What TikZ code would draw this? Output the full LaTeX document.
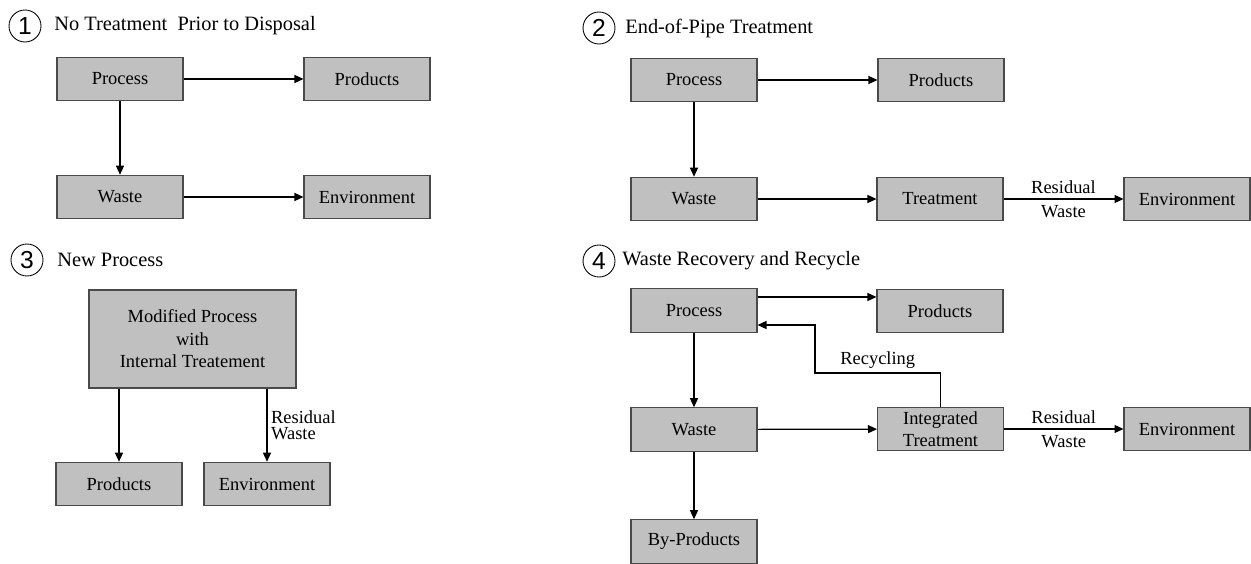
\documentclass[tikz,border=0pt]{standalone}
\usepackage{fontspec}
\setmainfont{Liberation Serif}
\newfontfamily\numsans{Liberation Sans}
\usepackage{tikz}
\usetikzlibrary{arrows.meta,positioning,calc}
\definecolor{wasteFill}{HTML}{C0C0C0}
\definecolor{wasteEdge}{HTML}{4A4A4A}
\tikzset{
  procbox/.style={rectangle, draw=wasteEdge, fill=wasteFill, line width=0.6pt,
    minimum width=2.52cm, minimum height=0.87cm, inner sep=1pt, align=center,
    font=\fontsize{10.5}{12.8}\selectfont},
  flowline/.style={-{Triangle[length=1.8mm,width=1.6mm]}, draw=black, line width=0.7pt},
  numcirc/.style={circle, draw, line width=0.5pt, minimum size=0.64cm, inner sep=0pt,
    font=\numsans\fontsize{14}{14}\selectfont},
  paneltitle/.style={anchor=west, inner sep=0pt, font=\fontsize{11.6}{14}\selectfont},
  edgelab/.style={inner sep=2pt, font=\fontsize{10.5}{11.5}\selectfont}
}
\begin{document}
\begin{tikzpicture}[x=0.02cm, y=-0.02cm]
\useasboundingbox (0,0) rectangle (1251,564);

% 1: no treatment
\node[numcirc] (c1) at (25,26) {1};
\node[paneltitle] (t1) at (54,26) {No Treatment~ Prior to Disposal};
\node[procbox] (p1proc) at (120,79) {Process};
\node[procbox] (p1prod) at (367,79) {Products};
\node[procbox] (p1waste) at (120,197) {Waste};
\node[procbox] (p1env) at (367,197) {Environment};
\draw[flowline] (p1proc) -- (p1prod);
\draw[flowline] (p1proc) -- (p1waste);
\draw[flowline] (p1waste) -- (p1env);

% 2: end-of-pipe
\node[numcirc] (c2) at (599,28) {2};
\node[paneltitle] (t2) at (625,28) {End-of-Pipe Treatment};
\node[procbox] (p2proc) at (694,80) {Process};
\node[procbox] (p2prod) at (941,80) {Products};
\node[procbox] (p2waste) at (694,199) {Waste};
\node[procbox] (p2treat) at (940,199) {Treatment};
\node[procbox] (p2env) at (1187,199) {Environment};
\draw[flowline] (p2proc) -- (p2prod);
\draw[flowline] (p2proc) -- (p2waste);
\draw[flowline] (p2waste) -- (p2treat);
\draw[flowline] (p2treat) -- node[edgelab, align=center]{Residual\\[2pt]Waste} (p2env);

% 3: new process
\node[numcirc] (c3) at (27,260) {3};
\node[paneltitle] (t3) at (57,260) {New Process};
\node[procbox, minimum width=4.14cm, minimum height=1.96cm] (p3mod) at (192.5,339)
  {Modified Process\\with\\Internal Treatement};
\node[procbox] (p3prod) at (119,484) {Products};
\node[procbox] (p3env) at (267,484) {Environment};
\draw[flowline] (p3mod.south -| p3prod) -- (p3prod);
\draw[flowline] (p3mod.south -| p3env) -- node[edgelab, right, align=left]{Residual\\[-2pt]Waste} (p3env);

% 4: recovery and recycle
\node[numcirc] (c4) at (599,261) {4};
\node[paneltitle] (t4) at (622,261) {Waste Recovery and Recycle};
\node[procbox] (p4proc) at (694,310.5) {Process};
\node[procbox] (p4prod) at (940,311) {Products};
\node[procbox] (p4waste) at (694,429.5) {Waste};
\node[procbox] (p4byp) at (694,541.5) {By-Products};
\node[procbox] (p4treat) at (940.5,429) {Integrated\\Treatment};
\node[procbox] (p4env) at (1187,429) {Environment};
\coordinate (rcbend) at (815,373);
\draw[flowline] ([yshift=0.27cm]p4proc.east) -- ([yshift=0.27cm]p4proc.east -| p4prod.west);
\draw[flowline] (p4proc) -- (p4waste);
\draw[flowline] (p4waste) -- (p4byp);
\draw[flowline] (p4waste) -- (p4treat);
\draw[flowline] (p4treat) -- node[edgelab, align=center]{Residual\\[2pt]Waste} (p4env);
\draw[flowline] (p4treat.north) -- (p4treat.north |- rcbend)
  -- node[edgelab, above]{Recycling} (rcbend) |- ([yshift=-0.29cm]p4proc.east);
\end{tikzpicture}
\end{document}
